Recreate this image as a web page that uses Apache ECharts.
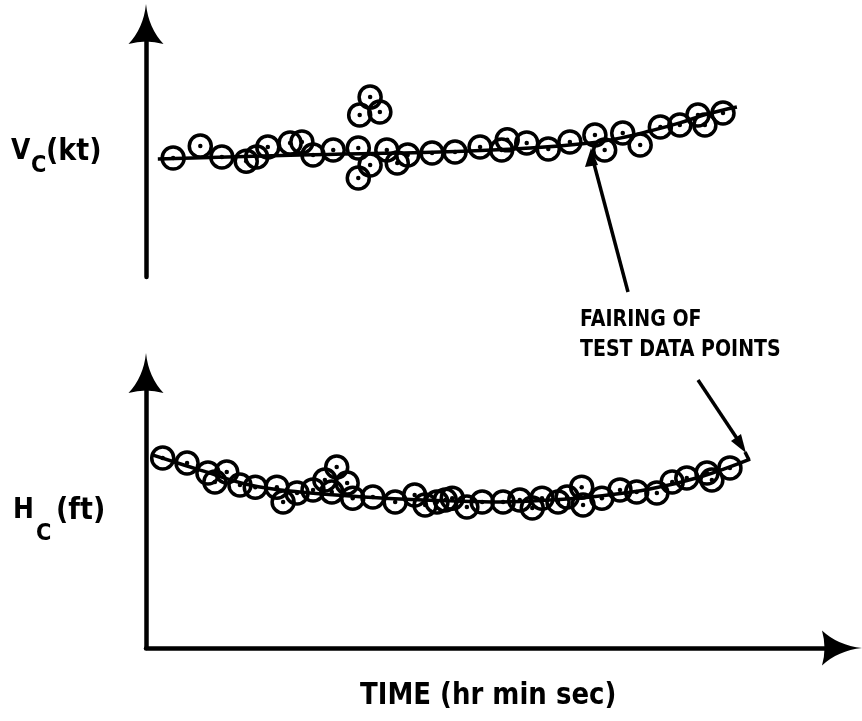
<!DOCTYPE html>
<html>
<head>
<meta charset="utf-8">
<script src="https://cdn.jsdelivr.net/npm/echarts@6/dist/echarts.min.js"></script>
<style>
html,body{margin:0;padding:0;background:#fff;}
#chart{width:862px;height:721px;}
</style>
</head>
<body>
<div id="chart"></div>
<script>
// ---- Data (arbitrary units) ----
// Top panel: V_C test points
const vcTime = [3.9, 7.8, 10.9, 14.4, 15.9, 17.5, 20.7, 22.4, 24.0, 26.9, 30.5, 32.2, 30.5, 32.2, 30.7, 33.6, 34.6, 36.1, 37.6, 41.1, 44.4, 48.0, 51.1, 51.9, 54.7, 57.8, 60.9, 64.5, 65.9, 68.5, 71.0, 73.9, 76.7, 79.3, 80.3, 82.9];
const vcValue = [47.0, 51.8, 47.4, 45.8, 47.4, 51.4, 53.0, 53.4, 48.2, 50.2, 51.0, 44.3, 39.1, 71.1, 64.0, 65.2, 50.2, 45.1, 48.2, 49.0, 49.4, 51.4, 50.2, 54.2, 53.0, 50.6, 53.4, 56.1, 50.2, 56.9, 52.2, 59.3, 60.1, 64.0, 60.1, 64.8];
// Top panel: fairing curve
const vcFairTime = [1.7, 22.1, 42.2, 55.2, 63.8, 68.1, 72.4, 76.7, 80.6, 84.9];
const vcFairValue = [46.6, 48.2, 49.4, 51.0, 53.0, 54.9, 57.7, 60.9, 64.4, 67.2];

// Bottom panel: H_C test points
const hcTime = [2.4, 5.9, 8.9, 9.9, 11.6, 13.5, 15.7, 18.8, 19.7, 21.7, 24.0, 25.7, 27.4, 26.7, 28.9, 29.7, 32.6, 35.8, 38.6, 40.1, 41.8, 43.0, 44.0, 46.1, 48.3, 51.3, 53.7, 55.5, 56.9, 59.2, 60.5, 62.6, 62.8, 65.5, 68.1, 70.5, 73.4, 75.6, 77.7, 80.6, 81.3, 83.9];
const hcValue = [69.1, 67.3, 63.6, 60.4, 64.0, 59.3, 58.5, 58.5, 53.1, 56.4, 57.5, 61.1, 65.8, 56.7, 60.0, 54.5, 54.9, 53.1, 55.6, 52.0, 53.1, 53.8, 54.5, 51.3, 53.1, 53.1, 53.8, 50.9, 54.5, 53.1, 54.9, 58.5, 52.0, 54.5, 57.5, 56.7, 56.4, 60.4, 61.8, 63.6, 61.1, 65.5];
// Bottom panel: fairing curve
const hcFairTime = [0.9, 7.8, 14.9, 22.1, 29.3, 36.5, 43.7, 50.9, 58.0, 65.2, 72.4, 79.6, 86.8];
const hcFairValue = [70.2, 64.7, 59.3, 56.7, 55.3, 54.2, 53.5, 53.1, 53.8, 55.3, 57.8, 62.2, 68.7];

// Text
const yLabelTop = ['V', 'C', '(kt)'];
const yLabelBottom = ['H', 'C', '(ft)'];
const xLabel = 'TIME (hr min sec)';
const noteLines = ['FAIRING OF', 'TEST DATA POINTS'];

// ---- Build ----
const zip = (a, b) => a.map((v, i) => [v, b[i]]);
const FONT = '"DejaVu Sans", "Liberation Sans", sans-serif';
const ARROW = 'path://M17.5,0 Q20,24 35,40 Q17.5,35 0,40 Q15,24 17.5,0 Z';

const axisLineStyle = { color: '#000', width: 4.5 };

function yAxisCfg(gridIndex) {
  return {
    type: 'value', gridIndex, min: 0, max: 100,
    axisLine: { show: true, onZero: false, lineStyle: axisLineStyle, symbol: ['none', ARROW], symbolSize: [35, 40] },
    axisTick: { show: false }, axisLabel: { show: false }, splitLine: { show: false }
  };
}

function circles(xi, data) {
  return {
    type: 'scatter', xAxisIndex: xi, yAxisIndex: xi, data,
    symbol: 'circle', symbolSize: 22, z: 3,
    itemStyle: { color: 'rgba(0,0,0,0)', borderColor: '#000', borderWidth: 3.5, opacity: 1 },
    silent: true
  };
}
function dots(xi, data) {
  return {
    type: 'scatter', xAxisIndex: xi, yAxisIndex: xi, data,
    symbol: 'circle', symbolSize: 4.5, z: 4,
    itemStyle: { color: '#000', opacity: 1 }, silent: true
  };
}
function fair(xi, data) {
  return {
    type: 'line', xAxisIndex: xi, yAxisIndex: xi, data, smooth: 0.4,
    showSymbol: false, symbol: 'none', z: 2,
    lineStyle: { color: '#000', width: 3.5 }, silent: true
  };
}

function txt(x, y, s, size, sy) {
  return {
    type: 'text', left: x, top: y, scaleY: sy || 1,
    style: { text: s, fill: '#000', font: 'bold ' + size + 'px ' + FONT }
  };
}

const topPts = zip(vcTime, vcValue);
const botPts = zip(hcTime, hcValue);

const chart = echarts.init(document.getElementById('chart'), null, { renderer: 'canvas' });
chart.setOption({
  animation: false,
  backgroundColor: '#fff',
  grid: [
    { left: 146, right: 20, top: 24, height: 253 },
    { left: 146, right: 20, top: 373, height: 275 }
  ],
  xAxis: [
    { type: 'value', gridIndex: 0, min: 0, max: 100, show: false },
    {
      type: 'value', gridIndex: 1, min: 0, max: 100,
      axisLine: { show: true, onZero: false, lineStyle: axisLineStyle, symbol: ['none', ARROW], symbolSize: [35, 40] },
      axisTick: { show: false }, axisLabel: { show: false }, splitLine: { show: false }
    }
  ],
  yAxis: [yAxisCfg(0), yAxisCfg(1)],
  series: [
    fair(0, zip(vcFairTime, vcFairValue)),
    circles(0, topPts),
    dots(0, topPts),
    fair(1, zip(hcFairTime, hcFairValue)),
    circles(1, botPts),
    dots(1, botPts)
  ],
  graphic: [
    txt(11, 138, yLabelTop[0], 25, 1.1),
    txt(31, 154, yLabelTop[1], 21, 1.1),
    txt(46, 137, yLabelTop[2], 27, 1.1),
    txt(13, 497, yLabelBottom[0], 25, 1.1),
    txt(36, 522, yLabelBottom[1], 21, 1.1),
    txt(56, 496, yLabelBottom[2], 27, 1.1),
    txt(360, 681, xLabel, 26, 1.15),
    txt(580, 309, noteLines[0], 19, 1.2),
    txt(580, 339, noteLines[1], 19, 1.2),
    // pointer to top fairing curve
    { type: 'line', shape: { x1: 628, y1: 292, x2: 593, y2: 160 }, style: { stroke: '#000', lineWidth: 3.5 } },
    { type: 'polygon', shape: { points: [[591, 148], [585, 167], [598, 165]] }, style: { fill: '#000' } },
    // pointer to bottom fairing curve
    { type: 'line', shape: { x1: 698, y1: 380, x2: 738, y2: 440 }, style: { stroke: '#000', lineWidth: 3.5 } },
    { type: 'polygon', shape: { points: [[746, 453], [741, 434], [731, 441]] }, style: { fill: '#000' } },
    { type: 'line', shape: { x1: 745, y1: 452, x2: 749, y2: 460 }, style: { stroke: '#000', lineWidth: 3.5 } }
  ]
});
</script>
</body>
</html>
